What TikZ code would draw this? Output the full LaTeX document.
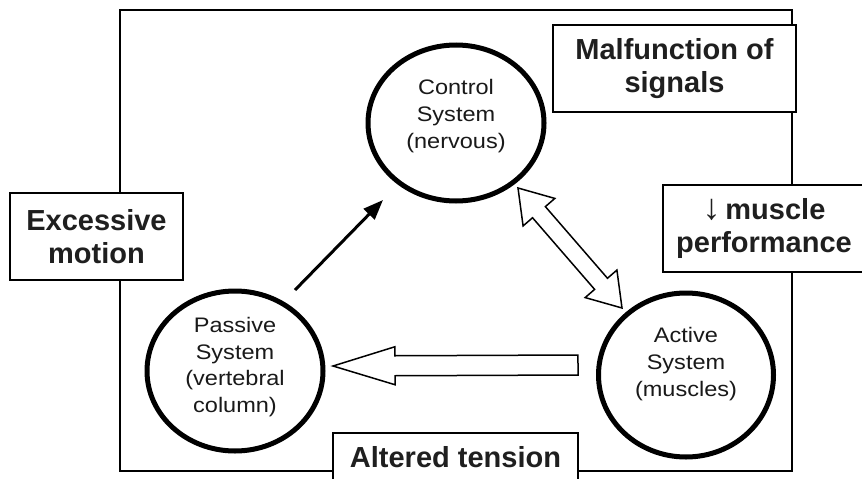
\documentclass[tikz,border=0pt]{standalone}
\usepackage{fontspec}
\setmainfont{Liberation Sans}
\newfontfamily\circfont[FakeStretch=1.12]{Liberation Sans}
\usetikzlibrary{shapes.geometric,calc,arrows.meta}
\begin{document}
\begin{tikzpicture}[x=1pt,y=-1pt,
  frame/.style={draw, line width=2pt},
  sysnode/.style={ellipse, draw, line width=5pt, fill=white, inner sep=0pt},
  systext/.style={align=center, inner sep=0pt, text=black!90, font=\circfont\fontsize{21}{26.8}\selectfont},
  labelbox/.style={draw, line width=2pt, fill=white, align=center, inner sep=0pt, text=black!88, font=\bfseries\fontsize{29}{33}\selectfont},
  hollow/.style={draw, line width=1.5pt, fill=white, line join=miter},
  solidarrow/.style={line width=3pt, -{Triangle[length=20pt,width=15pt]}}
]
\useasboundingbox (0,0) rectangle (862,479);
\fill[white] (0,0) rectangle (862,479);
% outer frame
\draw[frame] (120,10) rectangle (792,471);

% label boxes
\node[labelbox, minimum width=243pt, minimum height=87pt] (mal) at (674.5,68.5) {Malfunction of\\signals};
\node[labelbox, minimum width=173pt, minimum height=87pt] (exc) at (96.5,236.5) {Excessive\\motion};
\node[labelbox, minimum width=202pt, minimum height=87pt] (mus) at (764,228.5) {{\mdseries\fontsize{36}{33}\selectfont ↓}\,muscle\\performance};
\node[labelbox, minimum width=245pt, minimum height=48pt] (alt) at (455.5,457) {Altered tension};

% system circles
\node[sysnode, minimum width=176pt, minimum height=156pt] (ctrl) at (456,123) {};
\node[sysnode, minimum width=176pt, minimum height=160pt] (pas) at (235,371) {};
\node[sysnode, minimum width=175pt, minimum height=164pt] (act) at (686,375) {};
\node[systext] (ctrlt) at ([yshift=7pt]ctrl.center) {Control\\System\\(nervous)};
\node[systext] (past) at ([yshift=4pt]pas.center) {Passive\\System\\(vertebral\\column)};
\node[systext] (actt) at ([yshift=11pt]act.center) {Active\\System\\(muscles)};

% connector end points
\coordinate (bT) at (295,290);
\coordinate (bH) at (383,200);
\coordinate (dA) at (518,188);
\coordinate (dB) at (622,308);
\coordinate (hT) at (578,365);
\coordinate (hH) at (333,366);

% passive -> control (solid arrow)
\draw[solidarrow] (bT) -- (bH);

% control <-> active (hollow double arrow)
\draw[hollow] (dA)
  -- ($(dA)!32pt!(dB)!21pt!90:(dB)$)
  -- ($(dA)!32pt!(dB)!8.5pt!90:(dB)$)
  -- ($(dB)!32pt!(dA)!8.5pt!-90:(dA)$)
  -- ($(dB)!32pt!(dA)!21pt!-90:(dA)$)
  -- (dB)
  -- ($(dB)!32pt!(dA)!21pt!90:(dA)$)
  -- ($(dB)!32pt!(dA)!8.5pt!90:(dA)$)
  -- ($(dA)!32pt!(dB)!8.5pt!-90:(dB)$)
  -- ($(dA)!32pt!(dB)!21pt!-90:(dB)$)
  -- cycle;

% active -> passive (hollow arrow)
\draw[hollow] ($(hT)!10pt!90:(hH)$)
  -- ($(hH)!62pt!(hT)!10pt!-90:(hT)$)
  -- ($(hH)!62pt!(hT)!19pt!-90:(hT)$)
  -- (hH)
  -- ($(hH)!62pt!(hT)!19pt!90:(hT)$)
  -- ($(hH)!62pt!(hT)!10pt!90:(hT)$)
  -- ($(hT)!10pt!-90:(hH)$)
  -- cycle;
\end{tikzpicture}
\end{document}
